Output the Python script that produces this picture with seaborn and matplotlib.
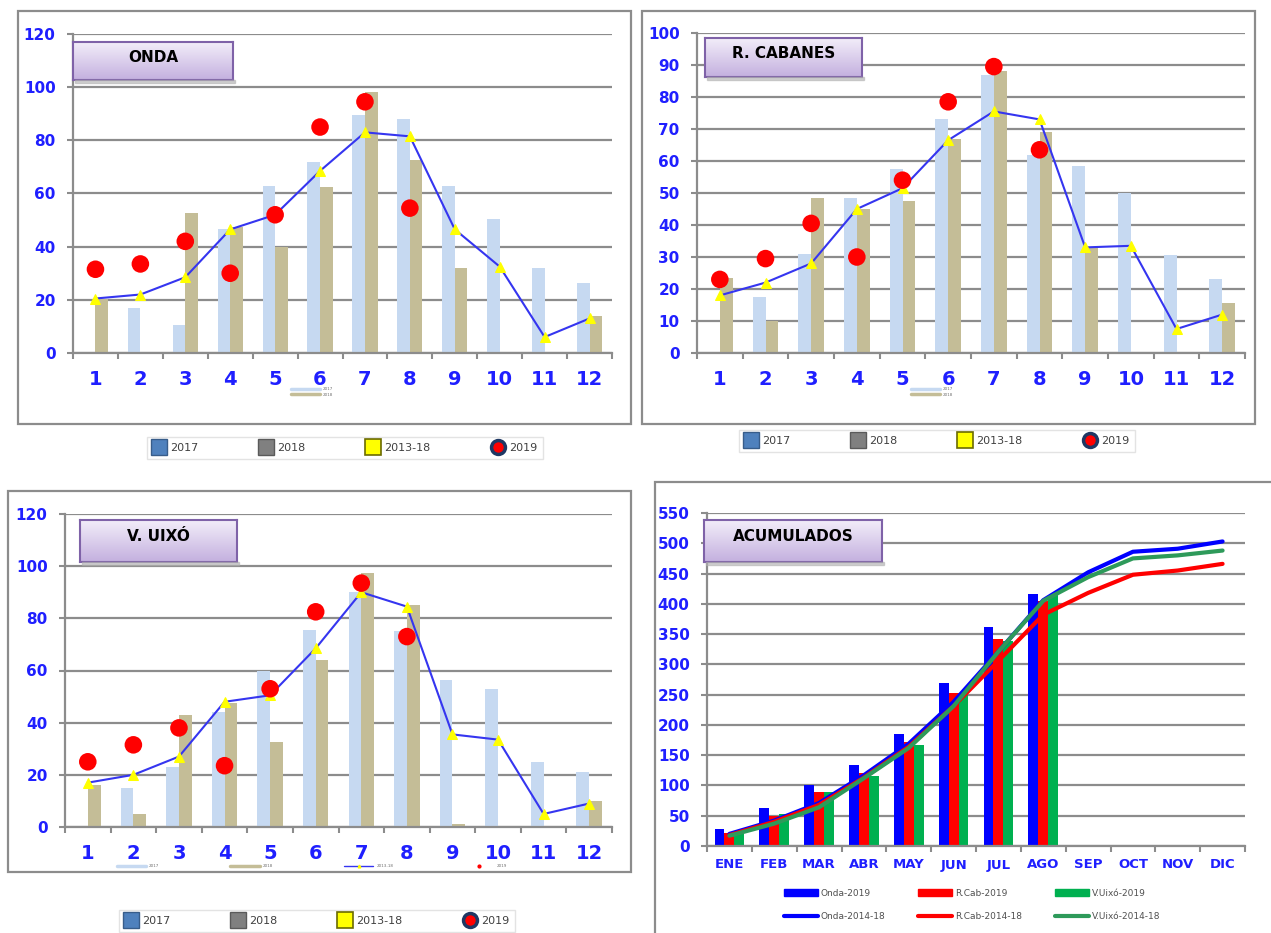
import numpy as np
import pandas as pd
import matplotlib
matplotlib.use("Agg")
import matplotlib.pyplot as plt
import seaborn as sns
from matplotlib.patches import Rectangle, Patch
from matplotlib.lines import Line2D
from matplotlib.colors import LinearSegmentedColormap

W, H = 1271, 933
nan = np.nan

meses = [str(i) for i in range(1, 13)]
meses_cortos = ["ENE", "FEB", "MAR", "ABR", "MAY", "JUN",
                "JUL", "AGO", "SEP", "OCT", "NOV", "DIC"]

# ONDA
onda_2017 = [0, 17, 10.5, 46.5, 63, 72, 89.5, 88, 63, 50.5, 32, 26.5]
onda_2018 = [20.5, 0, 52.5, 47.5, 40, 62.5, 98, 72.5, 32, 0, 0, 14]
onda_1318 = [20.5, 22, 28.5, 46.5, 52, 68.5, 83, 81.5, 46.5, 32.5, 6, 13]
onda_2019 = [31.5, 33.5, 42, 30, 52, 85, 94.5, 54.5, nan, nan, nan, nan]

# R. CABANES
rcab_2017 = [0, 17.5, 31, 48.5, 57.5, 73, 87, 62, 58.5, 50, 30.5, 23]
rcab_2018 = [23.5, 10, 48.5, 45, 47.5, 67, 88, 69, 33, 0, 0, 15.5]
rcab_1318 = [18, 22, 28, 45, 51.5, 66.5, 75.5, 73, 33, 33.5, 7.5, 12]
rcab_2019 = [23, 29.5, 40.5, 30, 54, 78.5, 89.5, 63.5, nan, nan, nan, nan]

# V. UIXO
vuix_2017 = [0, 15, 23, 44, 60, 75.5, 90, 75, 56.5, 53, 25, 21]
vuix_2018 = [16, 5, 43, 47.5, 32.5, 64, 97.5, 85, 1, 0, 0, 10]
vuix_1318 = [17, 20, 27, 48, 50.5, 68.5, 90, 84.5, 35.5, 33.5, 5, 9]
vuix_2019 = [25, 31.5, 38, 23.5, 53, 82.5, 93.5, 73, nan, nan, nan, nan]

# ACUMULADOS
onda_acum_2019 = [28, 62, 101, 133, 185, 269, 361, 416, 0, 0, 0, 0]
rcab_acum_2019 = [22, 50, 90, 120, 172, 253, 342, 405, 0, 0, 0, 0]
vuix_acum_2019 = [20, 53, 89, 115, 167, 250, 339, 414, 0, 0, 0, 0]
onda_acum_1418 = [20, 42, 71, 117, 169, 238, 321, 406, 452, 486, 491, 503]
rcab_acum_1418 = [18, 40, 68, 113, 164, 231, 306, 382, 418, 448, 455, 466]
vuix_acum_1418 = [17, 37, 64, 112, 162, 231, 321, 405, 444, 475, 480, 488]

AZUL_TXT = "#1f1fff"
GRIS = "#8c8c8c"
C2017 = "#c6d9f1"
C2018 = "#c4bd97"

sns.set_theme(style="white")
plt.rcParams["font.family"] = ["DejaVu Sans"]

fig = plt.figure(figsize=(W / 100, H / 100), dpi=100)


def caja(x0, y0, x1, y1):
    return [x0 / W, 1 - y1 / H, (x1 - x0) / W, (y1 - y0) / H]


def marco(x0, y0, x1, y1):
    fig.add_artist(Rectangle((x0 / W, 1 - y1 / H), (x1 - x0) / W, (y1 - y0) / H,
                             fill=False, ec=GRIS, lw=1.6, transform=fig.transFigure))


def estilo_ejes(ax, etiquetas, xsize, ysize, xpad):
    ax.set_xlim(-0.5, 11.5)
    ax.set_xticks(range(12))
    ax.set_xticklabels(etiquetas)
    ax.set_xticks(np.arange(-0.5, 12, 1), minor=True)
    ax.tick_params(axis="x", which="major", length=0, pad=xpad,
                   labelsize=xsize, labelcolor=AZUL_TXT)
    ax.tick_params(axis="x", which="minor", length=4.5, width=1.5,
                   color=GRIS, direction="out", bottom=True)
    ax.tick_params(axis="y", length=4.5, width=1.5, color=GRIS,
                   direction="out", left=True, pad=8,
                   labelsize=ysize, labelcolor=AZUL_TXT)
    for lbl in ax.get_xticklabels() + ax.get_yticklabels():
        lbl.set_fontweight("bold")
    ax.yaxis.grid(True, color=GRIS, lw=1.6)
    ax.xaxis.grid(False)
    ax.set_axisbelow(True)
    for s in ["top", "right"]:
        ax.spines[s].set_visible(False)
    for s in ["left", "bottom"]:
        ax.spines[s].set_color(GRIS)
        ax.spines[s].set_linewidth(1.6)
    ax.set_xlabel("")
    ax.set_ylabel("")


def titulo(x0, y0, x1, y1, texto):
    fig.add_artist(Rectangle((x0 / W + 2 / W, 1 - (y1 + 3) / H), (x1 - x0) / W, 3 / H,
                             color="#b0b0b0", alpha=0.6, transform=fig.transFigure))
    bax = fig.add_axes(caja(x0, y0, x1, y1))
    grad = np.linspace(0, 1, 60).reshape(-1, 1)
    cmap = LinearSegmentedColormap.from_list("lila", ["#f2edf9", "#c4b0df"])
    bax.imshow(grad, aspect="auto", cmap=cmap, extent=[0, 1, 0, 1])
    bax.set_xticks([])
    bax.set_yticks([])
    for s in bax.spines.values():
        s.set_color("#7f62a8")
        s.set_linewidth(1.5)
    bax.text(0.5, 0.6, texto, ha="center", va="center", fontsize=11,
             fontweight="bold", color="black", transform=bax.transAxes)


def panel(pos, v2017, v2018, v1318, v2019, ymax, ystep):
    ax = fig.add_axes(pos)
    df = pd.DataFrame({
        "mes": meses * 2,
        "valor": v2017 + v2018,
        "serie": ["2017"] * 12 + ["2018"] * 12,
    })
    sns.barplot(data=df, x="mes", y="valor", hue="serie", order=meses,
                hue_order=["2017", "2018"], palette={"2017": C2017, "2018": C2018},
                width=0.56, saturation=1, legend=False, linewidth=0,
                edgecolor="none", ax=ax)
    x = np.arange(12)
    sns.lineplot(x=x, y=v1318, color="#3535f0", lw=1.5, marker="^",
                 markersize=7, markerfacecolor="#ffff00",
                 markeredgecolor="#ffff00", ax=ax, zorder=3)
    sns.scatterplot(x=x, y=v2019, color="#ff0000", s=160, edgecolor="none",
                    ax=ax, zorder=4)
    ax.set_ylim(0, ymax)
    ax.set_yticks(np.arange(0, ymax + 1, ystep))
    estilo_ejes(ax, meses, 14, 11, 12)
    return ax


def leyenda_inferior(cx, cy):
    h = [
        Line2D([], [], ls="none", marker="s", markersize=11,
               markerfacecolor="#4f81bd", markeredgecolor="#385d8a", mew=1),
        Line2D([], [], ls="none", marker="s", markersize=11,
               markerfacecolor="#808080", markeredgecolor="#5a5a5a", mew=1),
        Line2D([], [], ls="none", marker="s", markersize=11,
               markerfacecolor="#ffff00", markeredgecolor="#6b6b00", mew=1.2),
        Line2D([], [], ls="none", marker="o", markersize=10,
               markerfacecolor="#ff0000", markeredgecolor="#1f3864", mew=2.5),
    ]
    lg = fig.legend(h, ["2017", "2018", "2013-18", "2019"], loc="center",
                    bbox_to_anchor=(cx / W, 1 - cy / H), ncol=4, fontsize=8,
                    handlelength=1.2, handletextpad=0.4, columnspacing=5.5,
                    frameon=True, fancybox=False, edgecolor="#dcdcdc",
                    borderpad=0.5)
    for t in lg.get_texts():
        t.set_color("#404040")


def leyenda_mini(cx, cy, ncol=1, cuatro=False):
    h = [Line2D([], [], color=C2017, lw=2.5), Line2D([], [], color=C2018, lw=2.5)]
    etq = ["2017", "2018"]
    if cuatro:
        h += [Line2D([], [], color="#3535f0", lw=1, marker="^", markersize=2,
                     markerfacecolor="#ffff00", markeredgecolor="#ffff00"),
              Line2D([], [], ls="none", marker="o", markersize=2, color="red")]
        etq += ["2013-18", "2019"]
    lg = fig.legend(h, etq, loc="center", bbox_to_anchor=(cx / W, 1 - cy / H),
                    ncol=ncol, fontsize=3, frameon=False, handlelength=7,
                    labelspacing=0.3, columnspacing=17 if cuatro else 1)
    for t in lg.get_texts():
        t.set_color("#707070")


# paneles superiores
ax1 = panel(caja(73, 34, 612, 353), onda_2017, onda_2018, onda_1318, onda_2019, 120, 20)
ax2 = panel(caja(697, 33, 1245, 353), rcab_2017, rcab_2018, rcab_1318, rcab_2019, 100, 10)
ax3 = panel(caja(65, 514, 612, 827), vuix_2017, vuix_2018, vuix_1318, vuix_2019, 120, 20)

# acumulados
ax4 = fig.add_axes(caja(707, 513, 1245, 846))
df_ac = pd.DataFrame({
    "mes": meses_cortos * 3,
    "valor": onda_acum_2019 + rcab_acum_2019 + vuix_acum_2019,
    "serie": ["Onda-2019"] * 12 + ["R.Cab-2019"] * 12 + ["V.Uixó-2019"] * 12,
})
colores_bar = {"Onda-2019": "#0000ff", "R.Cab-2019": "#ff0000", "V.Uixó-2019": "#00b050"}
sns.barplot(data=df_ac, x="mes", y="valor", hue="serie", order=meses_cortos,
            hue_order=list(colores_bar), palette=colores_bar, width=0.66,
            saturation=1, legend=False, linewidth=0, edgecolor="none", ax=ax4)
x = np.arange(12)
colores_lin = {"Onda-2014-18": "#0000ff", "R.Cab-2014-18": "#ff0000",
               "V.Uixó-2014-18": "#2e9a5a"}
sns.lineplot(x=x, y=onda_acum_1418, color=colores_lin["Onda-2014-18"], lw=3, ax=ax4)
sns.lineplot(x=x, y=rcab_acum_1418, color=colores_lin["R.Cab-2014-18"], lw=3, ax=ax4)
sns.lineplot(x=x, y=vuix_acum_1418, color=colores_lin["V.Uixó-2014-18"], lw=3, ax=ax4)
ax4.set_ylim(0, 550)
ax4.set_yticks(np.arange(0, 551, 50))
estilo_ejes(ax4, meses_cortos, 9.5, 11, 9)

h_ac = []
l_ac = []
for (nb, cb), (nl, cl) in zip(colores_bar.items(), colores_lin.items()):
    h_ac += [Patch(color=cb), Line2D([], [], color=cl, lw=3)]
    l_ac += [nb, nl]
lg = fig.legend(h_ac, l_ac, loc="center", bbox_to_anchor=(972 / W, 1 - 905 / H),
                ncol=3, fontsize=6.5, frameon=False, handlelength=3.8,
                handleheight=0.9, handletextpad=0.3, columnspacing=3.6,
                labelspacing=1.6)
for t in lg.get_texts():
    t.set_color("#505050")

# marcos de cada grafico
marco(18, 11, 631, 424)
marco(642, 11, 1255, 424)
marco(8, 491, 631, 872)
marco(655, 482, 1290, 960)

# titulos
titulo(73, 42, 233, 80, "ONDA")
titulo(705, 38, 862, 77, "R. CABANES")
titulo(80, 520, 237, 562, "V. UIXÓ")
titulo(704, 520, 882, 562, "ACUMULADOS")

# leyendas
leyenda_inferior(345, 448)
leyenda_inferior(937, 441)
leyenda_inferior(317, 921)
leyenda_mini(312, 392)
leyenda_mini(932, 392)
leyenda_mini(312, 866, ncol=4, cuatro=True)

fig.savefig("out.png", dpi=100)
